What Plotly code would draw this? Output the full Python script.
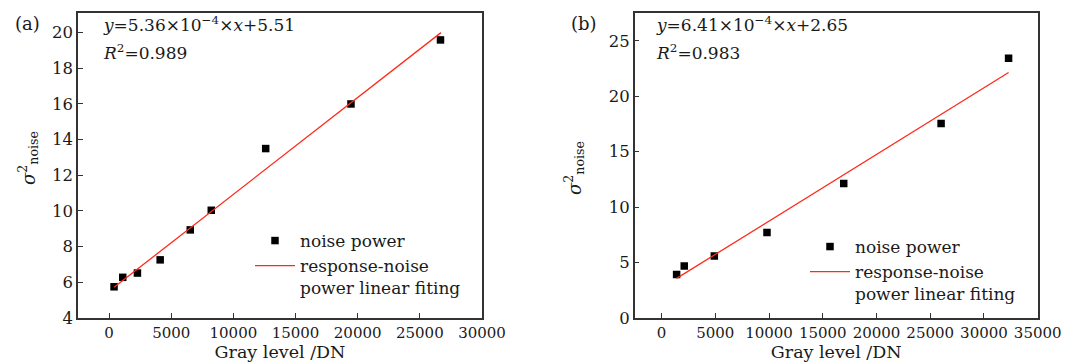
import plotly.graph_objects as go

# Panel (a)
a_x = [400, 1100, 2280, 4110, 6530, 8220, 12600, 19460, 26660]
a_y = [5.75, 6.28, 6.52, 7.26, 8.94, 10.04, 13.50, 16.0, 19.59]
a_fit_x = [400, 26700]
a_fit_y = [5.72, 20.0]

# Panel (b)
b_x = [1400, 2110, 4910, 9810, 16950, 26010, 32290]
b_y = [3.93, 4.69, 5.6, 7.7, 12.12, 17.54, 23.43]
b_fit_x = [1400, 32290]
b_fit_y = [3.57, 22.14]

FONT = "DejaVu Serif"
AX = "#333333"
TXT = "#1a1a1a"

fig = go.Figure()
fig.add_trace(go.Scatter(x=a_x, y=a_y, mode="markers", name="noise power",
                         marker=dict(symbol="square", size=7.5, color="black"),
                         xaxis="x", yaxis="y", legend="legend"))
fig.add_trace(go.Scatter(x=a_fit_x, y=a_fit_y, mode="lines",
                         name="response-noise<br>power linear fiting",
                         line=dict(color="#ff2a1a", width=1.3),
                         xaxis="x", yaxis="y", legend="legend"))
fig.add_trace(go.Scatter(x=b_x, y=b_y, mode="markers", name="noise power",
                         marker=dict(symbol="square", size=7.5, color="black"),
                         xaxis="x2", yaxis="y2", legend="legend2"))
fig.add_trace(go.Scatter(x=b_fit_x, y=b_fit_y, mode="lines",
                         name="response-noise<br>power linear fiting",
                         line=dict(color="#ff2a1a", width=1.3),
                         xaxis="x2", yaxis="y2", legend="legend2"))

axcommon = dict(showline=True, linecolor=AX, linewidth=1.5, mirror=True,
                ticks="inside", ticklen=5, tickwidth=1.2, tickcolor=AX,
                showgrid=False, zeroline=False, tickangle=0, tickformat="d")
xfont = dict(family=FONT, size=15, color=TXT)
yfont = dict(family=FONT, size=16.5, color=TXT)


def px(x):
    return x / 1076


def py(y):
    return (310 - y) / 305


fig.update_layout(
    width=1076, height=364,
    margin=dict(l=0, r=0, t=5, b=54, autoexpand=False),
    paper_bgcolor="white", plot_bgcolor="white",
    font=dict(family=FONT, size=15, color=TXT),
    xaxis=dict(domain=[px(70), px(474)], range=[-2500, 30000], dtick=5000,
               tickfont=xfont,
               title=dict(text="Gray level /DN", standoff=5, font=dict(size=17.5)),
               anchor="y", **axcommon),
    yaxis=dict(domain=[0, 1], range=[4, 21.1], dtick=2, anchor="x",
               tickfont=yfont, **axcommon),
    xaxis2=dict(domain=[px(626.7), px(1029.7)], range=[-2500, 35000], dtick=5000,
                tickfont=xfont,
                title=dict(text="Gray level /DN", standoff=5, font=dict(size=17.5)),
                anchor="y2", **axcommon),
    yaxis2=dict(domain=[0, 1], range=[0, 27.5], dtick=5, anchor="x2",
                tickfont=yfont, **axcommon),
    legend=dict(x=px(242), y=py(215), xanchor="left", yanchor="top",
                bgcolor="rgba(0,0,0,0)", valign="top", itemwidth=40,
                font=dict(family=FONT, size=17, color=TXT), tracegroupgap=0),
    legend2=dict(x=px(797), y=py(221), xanchor="left", yanchor="top",
                 bgcolor="rgba(0,0,0,0)", valign="top", itemwidth=40,
                 font=dict(family=FONT, size=17, color=TXT), tracegroupgap=0),
    showlegend=True,
)

ann = []


def A(text, x, y, size=17, xanchor="left", yanchor="middle", angle=0):
    ann.append(dict(text=text, xref="paper", yref="paper", x=px(x), y=py(y),
                    showarrow=False, xanchor=xanchor, yanchor=yanchor, textangle=angle,
                    font=dict(family=FONT, size=size, color=TXT)))


A("(a)", 5, 15, size=18)
A("(b)", 561, 15, size=18)
A("<i>y</i>=5.36×10<sup>−4</sup>×<i>x</i>+5.51", 93, 16)
A("<i>R</i><sup>2</sup>=0.989", 93, 44)
A("<i>y</i>=6.41×10<sup>−4</sup>×<i>x</i>+2.65", 646, 16)
A("<i>R</i><sup>2</sup>=0.983", 646, 44)
A("<i>σ</i><sup>2</sup><sub>noise</sub>", 20, 150, size=18, xanchor="center", angle=-90)
A("<i>σ</i><sup>2</sup><sub>noise</sub>", 566, 160, size=18, xanchor="center", angle=-90)
fig.update_layout(annotations=ann)

fig.write_html("out.html")
